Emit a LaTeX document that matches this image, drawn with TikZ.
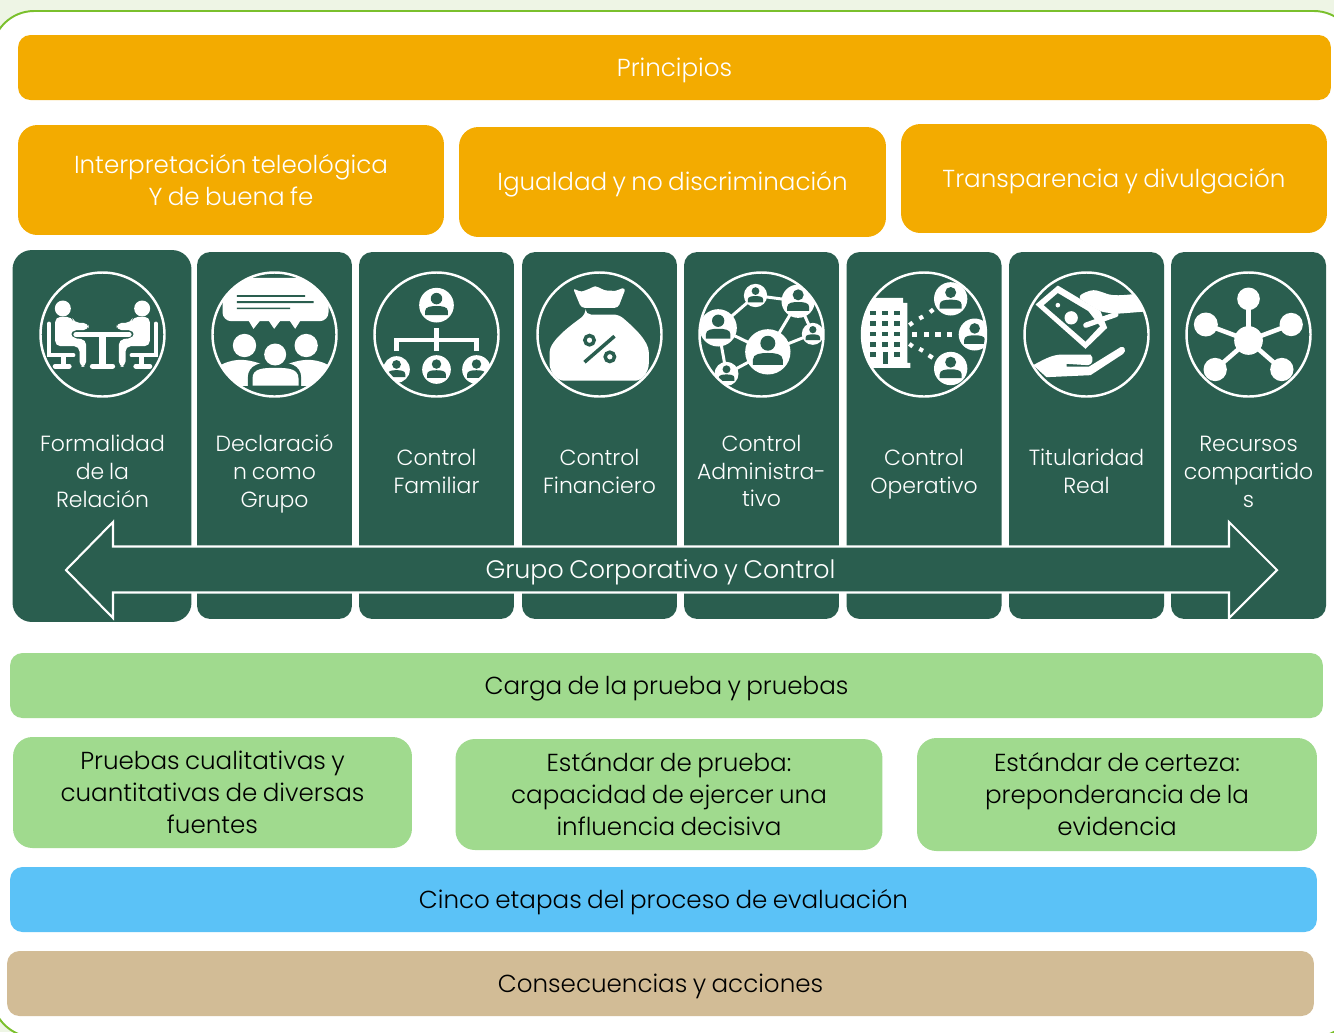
\documentclass[tikz,border=0pt]{standalone}
\usepackage{fontspec}
\setmainfont{Poppins Light}[WordSpace=0.8]
\usepackage{tikz}
\usetikzlibrary{calc,positioning}
\definecolor{orangebar}{HTML}{F3AB00}
\definecolor{darkgreen}{HTML}{2A5E4F}
\definecolor{lightgreen}{HTML}{A0DA8E}
\definecolor{skybar}{HTML}{5BC2F7}
\definecolor{tanbar}{HTML}{D2BC96}
\definecolor{framegreen}{HTML}{7AC02C}
\definecolor{palegreen}{HTML}{EEF5E5}
\tikzset{
  x=0.02cm, y=-0.02cm,
  bar/.style={rounded corners=7pt, minimum height=1.3cm, align=center, minimum width=#1, inner sep=0pt, font=\fontsize{14}{18.2}\selectfont},
  bar/.default=10cm,
  oneline/.style={text height=10pt, text depth=0pt},
  tall/.style={minimum height=2.2cm, rounded corners=11pt},
  colbox/.style={fill=darkgreen, rounded corners=7.5pt, minimum width=3.1cm, minimum height=7.34cm, inner sep=0pt},
  coltext/.style={text=white, align=center, inner sep=0pt, font=\fontsize{12.5}{15.9}\selectfont},
  ring/.style={draw=white, line width=1.4pt},
  wht/.style={fill=white, draw=none},
  grn/.style={fill=darkgreen, draw=none},
  link/.style={draw=white, line width=#1, line cap=round},
  link/.default=2.3pt,
}
% disc with a small person inside
\newcommand{\persondisc}[3]{%
  \begin{scope}[shift={(#1,#2)},scale=#3]
    \fill[wht] (0,0) circle (1);
    \fill[grn] (0,-0.38) circle (0.33);
    \fill[grn] (-0.66,0.58) -- (-0.66,0.35) .. controls (-0.66,0.08) and (-0.3,0.05) .. (0,0.05)
      .. controls (0.3,0.05) and (0.66,0.08) .. (0.66,0.35) -- (0.66,0.58) -- cycle;
  \end{scope}}
\begin{document}
\begin{tikzpicture}
  \useasboundingbox (0,0) rectangle (1334,1032);
  % --- frame ---
  \fill[palegreen] (0,0) rectangle (1334,1032);
  \fill[white, draw=framegreen, line width=1.1pt, rounded corners=24pt] (-8,11) rectangle (1356,1037);

  % --- Principios ---
  \node[bar=26.26cm, oneline, fill=orangebar, text=white] (principios) at (674.5,67.5) {Principios};
  \node[bar=8.52cm, tall, fill=orangebar, text=white] (teleologica) at (231,180) {Interpretación teleológica\\Y de buena fe};
  \node[bar=8.54cm, tall, oneline, fill=orangebar, text=white] (igualdad) at (672.5,182) {Igualdad y no discriminación};
  \node[bar=8.52cm, tall, oneline, minimum height=2.18cm, fill=orangebar, text=white] (transparencia) at (1114,178.5) {Transparencia y divulgación};

  % --- Columns ---
  \node[colbox, minimum width=3.58cm, minimum height=7.44cm, rounded corners=11pt] (col1) at (102,436) {};
  \node[colbox] (col2) at (274.5,435.5) {};
  \node[colbox] (col3) at (436.5,435.5) {};
  \node[colbox] (col4) at (599.5,435.5) {};
  \node[colbox] (col5) at (761.5,435.5) {};
  \node[colbox] (col6) at (924,435.5) {};
  \node[colbox] (col7) at (1086.5,435.5) {};
  \node[colbox] (col8) at (1248.5,435.5) {};

  \node[coltext] (lab1) at (102.5,471) {Formalidad\\de la\\Relación};
  \node[coltext] (lab2) at (274.5,474) {Declaració\\n como\\Grupo};
  \node[coltext] (lab3) at (436.5,471) {Control\\Familiar};
  \node[coltext] (lab4) at (599.5,471) {Control\\Financiero};
  \node[coltext] (lab5) at (761.5,471) {Control\\Administra-\\tivo};
  \node[coltext] (lab6) at (924,474) {Control\\Operativo};
  \node[coltext] (lab7) at (1086.5,471) {Titularidad\\Real};
  \node[coltext] (lab8) at (1248.5,472) {Recursos\\compartido\\s};

  % --- Icons: offsets in thirds of a pixel from each centre ---
  % meeting
  \begin{scope}[shift={(102.5,334.5)},scale=1/3]
    \draw[ring] (0,0) circle (186);
    \draw[link=3.6pt, line cap=butt] (0,0) -- (0,95);
    \draw[link=2.8pt] (-80,0) -- (80,0);
    \draw[link=3pt] (-30,95) -- (30,95);
    \foreach \s in {1,-1} {
      \begin{scope}[xscale=\s]
        \fill[wht] (-119,-78) circle (24);
        \fill[wht, rounded corners=3pt] (-142,-53) -- (-92,-53) -- (-85,-35) -- (-42,-35) -- (-42,-13) -- (-95,-13) -- (-95,10) -- (-49,15) -- (-49,97) -- (-69,97) -- (-69,35) -- (-142,35) -- cycle;
        \draw[link=2.6pt] (-160,-32) -- (-160,62) -- (-88,62);
        \draw[link=3pt, line cap=butt] (-117,62) -- (-117,95);
        \draw[link=2.8pt] (-142,95) -- (-100,95);
      \end{scope}
    }
  \end{scope}
  % group talking
  \begin{scope}[shift={(274.5,334.5)},scale=1/3]
    \begin{scope}
      \clip (0,0) circle (186);
      \fill[wht, rounded corners=5pt] (-156,-170) rectangle (162,-40);
      \fill[wht] (-78,-42) -- (-63,-17) -- (-43,-42) -- cycle (-18,-42) -- (-1,-17) -- (18,-42) -- cycle (45,-42) -- (62,-17) -- (78,-42) -- cycle;
      \fill[wht] (-90,33) circle (35) (95,33) circle (35);
      \fill[wht] (-175,100) .. controls (-130,70) and (-90,70) .. (-35,90) -- (-35,190) -- (-175,190) -- cycle;
      \fill[wht] (175,100) .. controls (130,70) and (90,70) .. (35,90) -- (35,190) -- (175,190) -- cycle;
      \fill[grn] (-80,155) -- (-80,130) .. controls (-80,90) and (-40,82) .. (0,82) .. controls (40,82) and (80,90) .. (80,130) -- (80,155) -- (190,155) -- (190,200) -- (-190,200) -- (-190,155) -- cycle;
      \fill[wht] (2,60) circle (33);
      \fill[wht] (-66,153) -- (-66,132) .. controls (-66,102) and (-35,100) .. (2,100) .. controls (40,100) and (72,102) .. (72,132) -- (72,153) -- cycle;
    \end{scope}
    \draw[ring] (0,0) circle (186);
    \fill[grn] (-113,-118) rectangle (92,-113) (-113,-100) rectangle (117,-94) (-113,-81) rectangle (47,-76);
  \end{scope}
  % family tree
  \begin{scope}[shift={(436.5,334.5)},scale=1/3]
    \draw[link=2.3pt, line cap=butt] (0,-20) -- (0,50);
    \draw[link=2.3pt, line cap=butt] (-120,50) -- (-120,17) -- (120,17) -- (120,50);
    \persondisc{0}{-88}{52}
    \begin{scope}
      \clip (0,0) circle (186);
      \persondisc{-120}{105}{40}
      \persondisc{0}{105}{43}
      \persondisc{120}{105}{43}
    \end{scope}
    \draw[ring] (0,0) circle (186);
  \end{scope}
  % money bag
  \begin{scope}[shift={(599.5,334.5)},scale=1/3]
    \draw[ring] (0,0) circle (186);
    \fill[wht, rounded corners=2pt] (-80,-140) .. controls (-60,-128) and (-50,-130) .. (-42,-132) .. controls (-25,-140) and (-15,-145) .. (-2,-142) .. controls (15,-132) and (25,-132) .. (33,-132) .. controls (50,-130) and (65,-138) .. (79,-140) -- (56,-80) -- (-55,-80) -- cycle;
    \fill[wht, rounded corners=3pt] (-42,-60) -- (58,-60) .. controls (105,-20) and (148,20) .. (148,70) .. controls (148,115) and (125,138) .. (95,138) -- (-95,138) .. controls (-125,138) and (-150,115) .. (-150,70) .. controls (-150,20) and (-90,-25) .. (-42,-60) -- cycle;
    \draw[draw=darkgreen, line width=2pt] (-30,17) circle (14) (31,67) circle (14);
    \draw[draw=darkgreen, line width=2pt] (-45,83) -- (45,5);
  \end{scope}
  % network
  \begin{scope}[shift={(761.5,334.5)},scale=1/3]
    \begin{scope}
      \clip (0,0) circle (186);
      \foreach \a/\b/\c/\d in {-18/-117/110/-100, -18/-117/-130/-20, 110/-100/19/52, 110/-100/154/-2, -130/-20/19/52, -130/-20/-105/118, 19/52/-105/118, 19/52/154/-2} {
        \draw[link=1.7pt, line cap=butt] (\a,\b) -- (\c,\d);
      }
      \persondisc{-18}{-117}{35}
      \persondisc{110}{-100}{50}
      \persondisc{-130}{-20}{56}
      \persondisc{19}{52}{68}
      \persondisc{154}{-2}{33}
      \persondisc{-105}{118}{36}
    \end{scope}
    \draw[ring] (0,0) circle (186);
  \end{scope}
  % building and people
  \begin{scope}[shift={(924,334.5)},scale=1/3]
    \begin{scope}
      \clip (0,0) circle (186);
      \fill[wht] (-190,100) -- (-190,-110) -- (-138,-110) -- (-63,-110) -- (-63,-95) -- (-50,-95) -- (-50,85) -- (-41,85) -- (-41,100) -- cycle;
      \foreach \yy in {-65,-33,-2,30,60} \foreach \xx in {-152,-116,-80} {
        \fill[grn] (\xx-9,\yy-7) rectangle (\xx+9,\yy+7);
      }
      \fill[wht] (-125,50) rectangle (-107,70);
      \fill[grn] (-123,53) rectangle (-109,87);
      \persondisc{80}{-107}{50}
      \persondisc{152}{0}{48}
      \persondisc{80}{102}{50}
    \end{scope}
    \foreach \xx in {-28,7,42,77} {
      \fill[wht] (\xx-8,-7) rectangle (\xx+8,7);
    }
    \foreach \a/\b/\c/\d in {-44/-28/-34/-36, -14/-48/-3/-54, 18/-67/28/-75, -44/28/-34/36, -14/43/-3/49, 14/62/26/70} {
      \draw[link=2.4pt, line cap=butt] (\a,\b) -- (\c,\d);
    }
    \draw[ring] (0,0) circle (186);
  \end{scope}
  % money in hand
  \begin{scope}[shift={(1086.5,334.5)},scale=1/3]
    \fill[wht] (-86,-147) -- (42,-70) -- (62,-20) -- (-3,43) -- (-153,-90) -- cycle;
    \fill[grn] (-86,-124) -- (5,-70) -- (40,-25) -- (-3,21) -- (-128,-88) -- cycle;
    \fill[wht] (-86,-88) circle (7) (-46,-50) circle (20);
    \begin{scope}
      \clip (0,0) circle (186);
      \fill[wht, rounded corners=3pt] (-28,-112) .. controls (0,-130) and (20,-135) .. (45,-128) .. controls (80,-115) and (110,-118) .. (150,-122) -- (190,-70) -- (90,-62) -- (42,-68) -- cycle;
      \draw[draw=white, line width=3pt, line cap=round] (-2,-28) -- (88,-60);
      \fill[wht] (-160,92) .. controls (-120,70) and (-100,60) .. (-70,60) -- (12,60) .. controls (22,70) and (20,90) .. (5,92) -- (-60,88) -- (-60,96) -- (8,96) -- (102,38) .. controls (115,32) and (120,50) .. (110,58) -- (12,122) -- (-120,128) -- cycle;
    \end{scope}
    \draw[ring] (0,0) circle (186);
  \end{scope}
  % hub
  \begin{scope}[shift={(1248.5,334.5)},scale=1/3]
    \draw[ring] (0,0) circle (186);
    \foreach \a/\b/\r in {0/-107/34, -128/-30/36, 128/-30/35, -100/105/35, 100/105/35} {
      \draw[link=2.6pt, line cap=butt] (0,18) -- (\a,\b);
      \fill[wht] (\a,\b) circle (\r);
    }
    \fill[wht] (0,18) circle (43);
  \end{scope}

  % --- Grupo arrow ---
  \draw[fill=darkgreen, draw=white, line width=1.2pt] (66,570) -- (113,522) -- (113,546.5) -- (1229,546.5) -- (1229,522) -- (1277,570) -- (1229,618) -- (1229,592.5) -- (113,592.5) -- (113,618) -- cycle;
  \node[coltext, font=\fontsize{14.4}{17}\selectfont, text height=10pt, text depth=0pt] (grupo) at (660.5,570) {Grupo Corporativo y Control};

  % --- Carga de la prueba ---
  \node[bar=26.26cm, oneline, fill=lightgreen] (carga) at (666.5,685.5) {Carga de la prueba y pruebas};
  \node[bar=7.98cm, tall, minimum height=2.22cm, fill=lightgreen] (cualitativas) at (212.5,792.5) {Pruebas cualitativas y\\cuantitativas de diversas\\fuentes};
  \node[bar=8.54cm, tall, minimum height=2.22cm, fill=lightgreen] (estandar) at (669,794.5) {Estándar de prueba:\\capacidad de ejercer una\\influencia decisiva};
  \node[bar=8cm, tall, minimum height=2.26cm, fill=lightgreen] (certeza) at (1117,794.5) {Estándar de certeza:\\preponderancia de la\\evidencia};

  % --- Bottom bars ---
  \node[bar=26.14cm, oneline, fill=skybar] (cinco) at (663.5,899.5) {Cinco etapas del proceso de evaluación};
  \node[bar=26.14cm, oneline, fill=tanbar] (consecuencias) at (660.5,983.5) {Consecuencias y acciones};
\end{tikzpicture}
\end{document}
